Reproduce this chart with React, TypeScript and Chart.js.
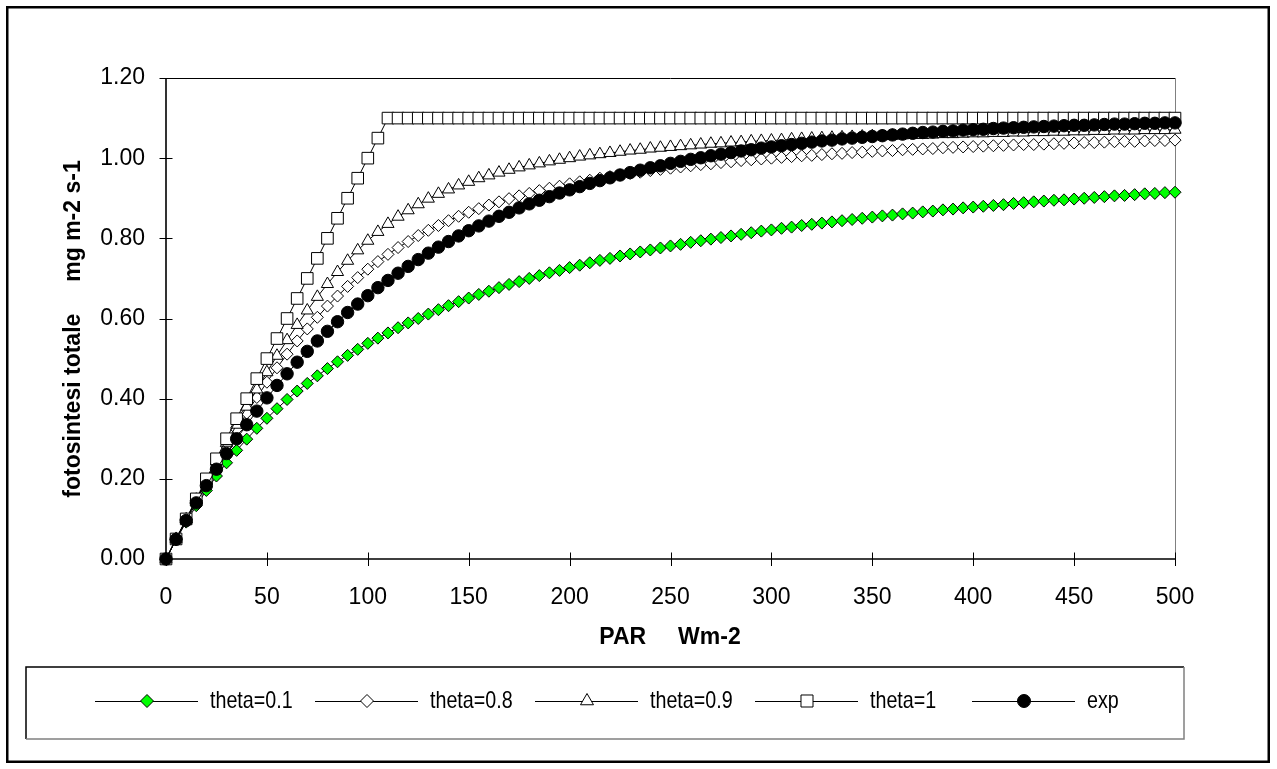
import React, { useEffect, useRef } from "react";
import { Chart, registerables } from "chart.js";

Chart.register(...registerables);

// PAR (W m-2)
const par = [
  0, 5, 10, 15, 20, 25, 30, 35, 40, 45,
  50, 55, 60, 65, 70, 75, 80, 85, 90, 95,
  100, 105, 110, 115, 120, 125, 130, 135, 140, 145,
  150, 155, 160, 165, 170, 175, 180, 185, 190, 195,
  200, 205, 210, 215, 220, 225, 230, 235, 240, 245,
  250, 255, 260, 265, 270, 275, 280, 285, 290, 295,
  300, 305, 310, 315, 320, 325, 330, 335, 340, 345,
  350, 355, 360, 365, 370, 375, 380, 385, 390, 395,
  400, 405, 410, 415, 420, 425, 430, 435, 440, 445,
  450, 455, 460, 465, 470, 475, 480, 485, 490, 495,
  500,
];

const theta01 = [
  0.000, 0.048, 0.092, 0.133, 0.171, 0.207, 0.240, 0.271, 0.299, 0.326, 0.351, 0.375, 0.398, 0.419, 0.438, 0.457, 0.475, 0.492, 0.508, 0.523, 0.538, 0.551, 0.564, 0.577, 0.589, 0.600,
  0.611, 0.622, 0.632, 0.642, 0.651, 0.660, 0.668, 0.677, 0.685, 0.692, 0.700, 0.707, 0.714, 0.720, 0.727, 0.733, 0.739, 0.745, 0.750, 0.756, 0.761, 0.766, 0.771, 0.776, 0.781, 0.785,
  0.790, 0.794, 0.798, 0.802, 0.806, 0.810, 0.814, 0.818, 0.821, 0.825, 0.828, 0.832, 0.835, 0.838, 0.841, 0.844, 0.847, 0.850, 0.853, 0.856, 0.858, 0.861, 0.863, 0.866, 0.868, 0.871,
  0.873, 0.876, 0.878, 0.880, 0.882, 0.884, 0.887, 0.889, 0.891, 0.893, 0.895, 0.896, 0.898, 0.900, 0.902, 0.904, 0.906, 0.907, 0.909, 0.911, 0.912, 0.914, 0.915,
];

const theta08 = [
  0.000, 0.050, 0.098, 0.146, 0.192, 0.237, 0.281, 0.323, 0.364, 0.403, 0.441, 0.477, 0.511, 0.544, 0.574, 0.603, 0.631, 0.656, 0.680, 0.702, 0.723, 0.742, 0.760, 0.777, 0.792, 0.807,
  0.820, 0.832, 0.844, 0.855, 0.865, 0.874, 0.883, 0.891, 0.899, 0.906, 0.912, 0.919, 0.925, 0.930, 0.936, 0.941, 0.945, 0.950, 0.954, 0.958, 0.962, 0.965, 0.969, 0.972, 0.975, 0.978,
  0.981, 0.984, 0.986, 0.989, 0.991, 0.994, 0.996, 0.998, 1.000, 1.002, 1.004, 1.006, 1.007, 1.009, 1.011, 1.012, 1.014, 1.015, 1.017, 1.018, 1.019, 1.021, 1.022, 1.023, 1.024, 1.026,
  1.027, 1.028, 1.029, 1.030, 1.031, 1.032, 1.033, 1.034, 1.034, 1.035, 1.036, 1.037, 1.038, 1.039, 1.039, 1.040, 1.041, 1.042, 1.042, 1.043, 1.044, 1.044, 1.045,
];

const theta09 = [
  0.000, 0.050, 0.099, 0.148, 0.196, 0.243, 0.290, 0.335, 0.380, 0.423, 0.466, 0.507, 0.546, 0.584, 0.620, 0.654, 0.686, 0.716, 0.744, 0.770, 0.794, 0.816, 0.836, 0.854, 0.870, 0.885,
  0.899, 0.911, 0.922, 0.932, 0.941, 0.950, 0.957, 0.964, 0.971, 0.977, 0.982, 0.987, 0.992, 0.996, 1.000, 1.004, 1.007, 1.010, 1.013, 1.016, 1.019, 1.021, 1.024, 1.026, 1.028, 1.030,
  1.032, 1.034, 1.036, 1.037, 1.039, 1.040, 1.042, 1.043, 1.044, 1.045, 1.047, 1.048, 1.049, 1.050, 1.051, 1.052, 1.053, 1.054, 1.055, 1.055, 1.056, 1.057, 1.058, 1.058, 1.059, 1.060,
  1.060, 1.061, 1.062, 1.062, 1.063, 1.063, 1.064, 1.064, 1.065, 1.065, 1.066, 1.066, 1.067, 1.067, 1.068, 1.068, 1.069, 1.069, 1.069, 1.070, 1.070, 1.070, 1.071,
];

const theta1 = [
  0, 0.05, 0.1, 0.15, 0.2, 0.25, 0.3, 0.35, 0.4, 0.45,
  0.5, 0.55, 0.6, 0.65, 0.7, 0.75, 0.8, 0.85, 0.9, 0.95,
  1.0, 1.05, 1.1, 1.1, 1.1, 1.1, 1.1, 1.1, 1.1, 1.1,
  1.1, 1.1, 1.1, 1.1, 1.1, 1.1, 1.1, 1.1, 1.1, 1.1,
  1.1, 1.1, 1.1, 1.1, 1.1, 1.1, 1.1, 1.1, 1.1, 1.1,
  1.1, 1.1, 1.1, 1.1, 1.1, 1.1, 1.1, 1.1, 1.1, 1.1,
  1.1, 1.1, 1.1, 1.1, 1.1, 1.1, 1.1, 1.1, 1.1, 1.1,
  1.1, 1.1, 1.1, 1.1, 1.1, 1.1, 1.1, 1.1, 1.1, 1.1,
  1.1, 1.1, 1.1, 1.1, 1.1, 1.1, 1.1, 1.1, 1.1, 1.1,
  1.1, 1.1, 1.1, 1.1, 1.1, 1.1, 1.1, 1.1, 1.1, 1.1,
  1.1,
];

const expo = [
  0.000, 0.049, 0.096, 0.140, 0.183, 0.224, 0.263, 0.300, 0.335, 0.369, 0.402, 0.433, 0.462, 0.491, 0.518, 0.544, 0.568, 0.592, 0.615, 0.636, 0.657, 0.677, 0.695, 0.713, 0.730, 0.747,
  0.763, 0.778, 0.792, 0.806, 0.819, 0.831, 0.843, 0.855, 0.865, 0.876, 0.886, 0.895, 0.904, 0.913, 0.921, 0.929, 0.937, 0.944, 0.951, 0.958, 0.964, 0.970, 0.976, 0.981, 0.987, 0.992,
  0.997, 1.001, 1.006, 1.010, 1.014, 1.018, 1.021, 1.025, 1.028, 1.031, 1.034, 1.037, 1.040, 1.043, 1.045, 1.048, 1.050, 1.052, 1.054, 1.056, 1.058, 1.060, 1.062, 1.064, 1.065, 1.067,
  1.068, 1.070, 1.071, 1.072, 1.074, 1.075, 1.076, 1.077, 1.078, 1.079, 1.080, 1.081, 1.082, 1.082, 1.083, 1.084, 1.085, 1.085, 1.086, 1.087, 1.087, 1.088, 1.088,
];

const seriesNames = ["theta=0.1", "theta=0.8", "theta=0.9", "theta=1", "exp"];
const xTitle = "PAR     Wm-2";
const yTitle = "fotosintesi totale     mg m-2 s-1";

const FONT = "'Liberation Sans', Arial, Helvetica, sans-serif";

type Mk = { style: string; r: number; fill: string; lr: number };
const markers: Mk[] = [
  { style: "rectRot", r: 6, fill: "#00ff00", lr: 6.5 },
  { style: "rectRot", r: 6, fill: "#ffffff", lr: 6.5 },
  { style: "triangle", r: 7, fill: "#ffffff", lr: 7.5 },
  { style: "rect", r: 8.2, fill: "#ffffff", lr: 8.5 },
  { style: "circle", r: 6.2, fill: "#000000", lr: 6.5 },
];

function drawMarker(ctx: CanvasRenderingContext2D, style: string, x: number, y: number, r: number, fill: string) {
  ctx.save();
  ctx.beginPath();
  if (style === "rectRot") {
    ctx.moveTo(x, y - r);
    ctx.lineTo(x + r, y);
    ctx.lineTo(x, y + r);
    ctx.lineTo(x - r, y);
    ctx.closePath();
  } else if (style === "triangle") {
    const h = r * 1.5;
    const w = r * Math.sqrt(3) / 2;
    ctx.moveTo(x, y - r);
    ctx.lineTo(x + w, y - r + h);
    ctx.lineTo(x - w, y - r + h);
    ctx.closePath();
  } else if (style === "rect") {
    const s = r * Math.SQRT1_2;
    ctx.rect(x - s, y - s, 2 * s, 2 * s);
  } else {
    ctx.arc(x, y, r, 0, Math.PI * 2);
  }
  ctx.fillStyle = fill;
  ctx.fill();
  ctx.lineWidth = 1;
  ctx.strokeStyle = "#000";
  ctx.stroke();
  ctx.restore();
}

const framePlugin = {
  id: "framePlugin",
  beforeDraw(chart: any) {
    const ctx = chart.ctx as CanvasRenderingContext2D;
    ctx.save();
    ctx.fillStyle = "#fff";
    ctx.fillRect(0, 0, chart.width, chart.height);
    ctx.restore();
  },
  beforeDatasetsDraw(chart: any) {
    const ctx = chart.ctx as CanvasRenderingContext2D;
    const { left, right, top, bottom } = chart.chartArea;
    const xs = chart.scales.x;
    const ys = chart.scales.y;
    ctx.save();
    ctx.lineWidth = 1;
    ctx.strokeStyle = "#000";
    ctx.beginPath();
    ctx.moveTo(left, top + 0.5);
    ctx.lineTo(right, top + 0.5);
    ctx.stroke();
    ctx.strokeStyle = "#808080";
    ctx.beginPath();
    ctx.moveTo(right + 0.5, top);
    ctx.lineTo(right + 0.5, bottom);
    ctx.stroke();
    ctx.strokeStyle = "#000";
    ctx.lineWidth = 1.6;
    ctx.beginPath();
    ctx.moveTo(left, top);
    ctx.lineTo(left, bottom);
    ctx.lineTo(right, bottom);
    ctx.stroke();
    ctx.lineWidth = 1;
    ctx.beginPath();
    xs.ticks.forEach((t: any) => {
      const px = Math.round(xs.getPixelForValue(t.value)) + 0.5;
      ctx.moveTo(px, bottom - 6.5);
      ctx.lineTo(px, bottom + 7);
    });
    ys.ticks.forEach((t: any) => {
      const py = Math.round(ys.getPixelForValue(t.value)) + 0.5;
      ctx.moveTo(left - 6.5, py);
      ctx.lineTo(left + 6.5, py);
    });
    ctx.stroke();
    ctx.restore();
  },
  afterDraw(chart: any) {
    const ctx = chart.ctx as CanvasRenderingContext2D;
    ctx.save();
    ctx.strokeStyle = "#000";
    ctx.lineWidth = 2.5;
    ctx.strokeRect(7.25, 7.25, 1261.5, 754.5);

    ctx.fillStyle = "#000";
    ctx.font = "bold 23px " + FONT;
    ctx.textAlign = "center";
    ctx.textBaseline = "middle";
    ctx.fillText(xTitle, 670, 638);
    ctx.save();
    ctx.translate(74, 329);
    ctx.rotate(-Math.PI / 2);
    ctx.fillText(yTitle, 0, 0);
    ctx.restore();

    const bx = 26, by = 667, bw = 1158, bh = 72;
    ctx.lineWidth = 1.5;
    ctx.strokeStyle = "#000";
    ctx.beginPath();
    ctx.moveTo(bx, by + bh);
    ctx.lineTo(bx, by);
    ctx.lineTo(bx + bw, by);
    ctx.stroke();
    ctx.strokeStyle = "#808080";
    ctx.beginPath();
    ctx.moveTo(bx + bw, by);
    ctx.lineTo(bx + bw, by + bh);
    ctx.lineTo(bx, by + bh);
    ctx.stroke();

    const starts = [95, 315, 535, 755, 972];
    const ly = 701;
    chart.data.datasets.forEach((ds: any, i: number) => {
      const x0 = starts[i];
      ctx.strokeStyle = "#000";
      ctx.lineWidth = 1;
      ctx.beginPath();
      ctx.moveTo(x0, ly + 0.5);
      ctx.lineTo(x0 + 103, ly + 0.5);
      ctx.stroke();
      const m = markers[i];
      drawMarker(ctx, m.style, x0 + 52, ly, m.lr, m.fill);
      ctx.save();
      ctx.fillStyle = "#000";
      ctx.font = "24px " + FONT;
      ctx.textAlign = "left";
      ctx.textBaseline = "middle";
      ctx.translate(x0 + 115, ly);
      ctx.scale(0.82, 1);
      ctx.fillText(ds.label, 0, 0);
      ctx.restore();
    });
    ctx.restore();
  },
};

const seriesValues = [theta01, theta08, theta09, theta1, expo];

export default function App() {
  const ref = useRef<HTMLCanvasElement | null>(null);
  useEffect(() => {
    if (!ref.current) return;
    const datasets = seriesValues.map((vals, i) => ({
      label: seriesNames[i],
      data: par.map((x, k) => ({ x, y: vals[k] })),
      borderColor: "#000",
      borderWidth: 1,
      backgroundColor: markers[i].fill,
      pointStyle: markers[i].style,
      pointRadius: markers[i].r,
      pointHoverRadius: markers[i].r,
      pointBackgroundColor: markers[i].fill,
      pointBorderColor: "#000",
      pointBorderWidth: 1,
      tension: 0,
      fill: false,
      clip: false as any,
      order: 4 - i,
    }));
    const chart = new Chart(ref.current, {
      type: "line",
      data: { datasets },
      options: {
        responsive: false,
        animation: false,
        devicePixelRatio: 1,
        layout: { padding: { left: 66, right: 102, top: 78, bottom: 0 } },
        plugins: { legend: { display: false }, tooltip: { enabled: false }, title: { display: false } },
        scales: {
          x: {
            type: "linear",
            min: 0,
            max: 500,
            grid: { display: false, drawTicks: false },
            border: { display: false },
            ticks: { stepSize: 50, color: "#000", font: { family: FONT, size: 23 }, padding: 25, maxRotation: 0 },
            afterFit: (s: any) => { s.height = 210; },
          },
          y: {
            type: "linear",
            min: 0,
            max: 1.2,
            grid: { display: false, drawTicks: false },
            border: { display: false },
            ticks: {
              stepSize: 0.2,
              color: "#000",
              font: { family: FONT, size: 23 },
              padding: 21,
              callback: (v: any) => Number(v).toFixed(2),
            },
            afterFit: (s: any) => { s.width = 100; },
          },
        },
      },
      plugins: [framePlugin],
    });
    return () => chart.destroy();
  }, []);
  return (
    <div style={{ position: "fixed", left: 0, top: 0, width: 1277, height: 769, background: "#fff" }}>
      <canvas ref={ref} width={1277} height={769} style={{ width: 1277, height: 769, display: "block" }} />
    </div>
  );
}
